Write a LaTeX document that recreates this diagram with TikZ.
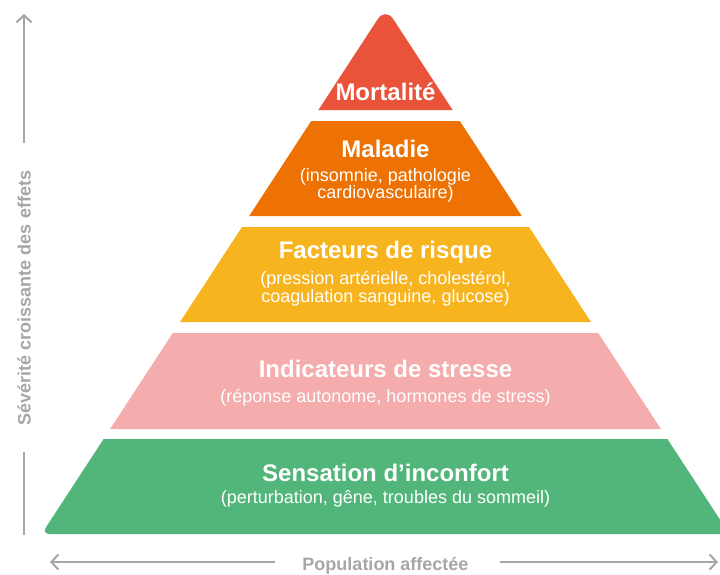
\documentclass[tikz,border=0pt]{standalone}
\usepackage{fontspec}
\setmainfont{Liberation Sans}
\usetikzlibrary{arrows.meta}
\definecolor{cMort}{HTML}{E8533A}
\definecolor{cMal}{HTML}{EE7203}
\definecolor{cFac}{HTML}{F8B41E}
\definecolor{cInd}{HTML}{F4ACAC}
\definecolor{cSen}{HTML}{52B57A}
\definecolor{axgray}{HTML}{A6A6A6}
\begin{document}
\begin{tikzpicture}[x=1pt,y=-1pt,
  ttl/.style={text=white,font=\fontsize{24}{24}\selectfont\bfseries,anchor=base,inner sep=0pt},
  subt/.style={text=white,font=\fontsize{18}{18}\selectfont,anchor=base,inner sep=0pt},
  axlbl/.style={text=axgray,font=\fontsize{18}{18}\selectfont\bfseries,inner sep=0pt},
  axisline/.style={draw=axgray,line width=2pt,-{Straight Barb[length=7pt,width=15pt,line width=2pt]}},
  axisplain/.style={draw=axgray,line width=2pt}]
\useasboundingbox (0,0) rectangle (720,574);
\clip (0,0) rectangle (720,574);

% layers
\fill[cMort] (318.4,110) [rounded corners=14pt] -- (385.5,7.3) [sharp corners] -- (452.6,110) -- cycle;
\fill[cMal] (311.2,121) -- (459.8,121) -- (521.8,216) -- (249.2,216) -- cycle;
\fill[cFac] (242,227) -- (529,227) -- (591,322) -- (180,322) -- cycle;
\fill[cInd] (172.8,333) -- (598.2,333) -- (660.9,429) -- (110.1,429) -- cycle;
\fill[cSen] (103.6,439) -- (667.4,439) [rounded corners=8pt] -- (729.4,534) -- (41.6,534) [sharp corners] -- cycle;

% texts
\node[ttl] (t1) at (385.5,100) {Mortalité};
\node[ttl] (t2) at (385.5,157) {Maladie};
\node[subt] (s2a) at (385.5,181) {(insomnie, pathologie};
\node[subt] (s2b) at (385.5,198) {cardiovasculaire)};
\node[ttl] (t3) at (385.5,258) {Facteurs de risque};
\node[subt] (s3a) at (385.5,284) {(pression artérielle, cholestérol,};
\node[subt] (s3b) at (385.5,302) {coagulation sanguine, glucose)};
\node[ttl] (t4) at (385.5,377) {Indicateurs de stresse};
\node[subt] (s4) at (385.5,402) {(réponse autonome, hormones de stress)};
\node[ttl] (t5) at (385.5,481) {Sensation d’inconfort};
\node[subt] (s5) at (385.5,503) {(perturbation, gêne, troubles du sommeil)};

% axes
\node[axlbl,rotate=90] (ylbl) at (24,298) {Sévérité croissante des effets};
\node[axlbl,anchor=base] (xlbl) at (385.5,570) {Population affectée};
\coordinate (ytop) at (24,14);
\coordinate (ybot) at (24,535);
\coordinate (xl) at (50,562);
\coordinate (xr) at (718,562);
\draw[axisline] (24,143) -- (ytop);
\draw[axisplain] (24,452) -- (ybot);
\draw[axisline] (275,562) -- (xl);
\draw[axisline] (500,562) -- (xr);
\end{tikzpicture}
\end{document}
